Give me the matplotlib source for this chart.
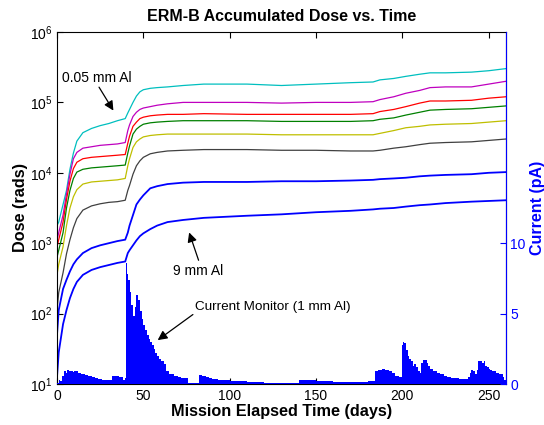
import numpy as np
import matplotlib
matplotlib.use('Agg')
from matplotlib import pyplot as plt

plt.rcParams['font.family'] = ['Liberation Sans', 'DejaVu Sans']

# Mission elapsed time (days) where the dose curves were read
days = [0, 1, 3.5, 5.5, 7.5, 9.5, 11.5, 15, 20, 25, 30, 35, 39.5, 41, 42, 44, 46, 48,
        50, 54, 58, 64, 73, 85, 110, 130, 150, 170, 183, 187, 195, 202, 210, 216,
        225, 240, 250, 260]

# Accumulated dose (rads), log10 values, thinnest shield first
log_dose_cyan = [3.25, 3.30, 3.55, 3.75, 4.05, 4.28, 4.45, 4.57, 4.63, 4.67, 4.70, 4.74,
                 4.77, 4.85, 4.90, 5.00, 5.09, 5.15, 5.18, 5.20, 5.21, 5.22, 5.24, 5.26,
                 5.26, 5.24, 5.26, 5.28, 5.29, 5.32, 5.34, 5.37, 5.40, 5.42, 5.42, 5.43,
                 5.45, 5.48]
log_dose_magenta = [3.05, 3.15, 3.40, 3.70, 3.98, 4.20, 4.29, 4.35, 4.37, 4.39, 4.40, 4.41,
                    4.43, 4.60, 4.68, 4.80, 4.86, 4.90, 4.92, 4.94, 4.96, 4.98, 5.00, 5.00,
                    5.00, 4.99, 5.00, 5.00, 5.01, 5.04, 5.08, 5.13, 5.17, 5.21, 5.22, 5.22,
                    5.26, 5.30]
log_dose_red = [2.95, 3.05, 3.30, 3.62, 3.88, 4.06, 4.15, 4.20, 4.22, 4.23, 4.24, 4.25,
                4.26, 4.42, 4.52, 4.66, 4.72, 4.77, 4.79, 4.81, 4.82, 4.83, 4.83, 4.84,
                4.83, 4.83, 4.83, 4.83, 4.84, 4.87, 4.90, 4.94, 4.99, 5.02, 5.02, 5.03,
                5.06, 5.08]
log_dose_green = [2.80, 2.90, 3.15, 3.50, 3.75, 3.92, 4.01, 4.05, 4.07, 4.08, 4.09, 4.10,
                  4.11, 4.28, 4.38, 4.55, 4.62, 4.66, 4.69, 4.71, 4.72, 4.73, 4.74, 4.74,
                  4.74, 4.73, 4.73, 4.73, 4.74, 4.76, 4.78, 4.82, 4.86, 4.89, 4.90, 4.91,
                  4.93, 4.95]
log_dose_olive = [2.55, 2.70, 2.95, 3.25, 3.50, 3.66, 3.76, 3.84, 3.87, 3.88, 3.89, 3.90,
                  3.92, 4.10, 4.20, 4.36, 4.44, 4.48, 4.51, 4.53, 4.54, 4.55, 4.55, 4.55,
                  4.55, 4.54, 4.54, 4.54, 4.54, 4.56, 4.60, 4.64, 4.66, 4.68, 4.69, 4.70,
                  4.72, 4.74]
log_dose_gray = [2.05, 2.30, 2.58, 2.85, 3.05, 3.22, 3.35, 3.47, 3.53, 3.56, 3.58, 3.59,
                 3.61, 3.75, 3.82, 3.98, 4.10, 4.17, 4.22, 4.27, 4.29, 4.31, 4.32, 4.33,
                 4.33, 4.32, 4.32, 4.31, 4.31, 4.32, 4.35, 4.37, 4.40, 4.42, 4.43, 4.44,
                 4.46, 4.48]
log_dose_blue1 = [1.70, 2.05, 2.35, 2.48, 2.60, 2.70, 2.77, 2.86, 2.93, 2.97, 3.00, 3.03,
                  3.05, 3.15, 3.25, 3.40, 3.55, 3.62, 3.68, 3.78, 3.81, 3.84, 3.86, 3.87,
                  3.87, 3.88, 3.88, 3.89, 3.90, 3.91, 3.92, 3.93, 3.95, 3.96, 3.97, 3.98,
                  4.00, 4.01]
log_dose_blue2 = [1.10, 1.45, 1.85, 2.05, 2.22, 2.35, 2.45, 2.55, 2.62, 2.66, 2.69, 2.72,
                  2.74, 2.86, 2.90, 2.97, 3.04, 3.10, 3.14, 3.20, 3.25, 3.30, 3.33, 3.36,
                  3.39, 3.41, 3.44, 3.46, 3.48, 3.49, 3.50, 3.52, 3.54, 3.55, 3.57, 3.59,
                  3.60, 3.61]

dose_curves = [log_dose_cyan, log_dose_magenta, log_dose_red, log_dose_green,
               log_dose_olive, log_dose_gray, log_dose_blue1, log_dose_blue2]
curve_colors = ['#00bfbf', '#bf00bf', '#ff0000', '#008000',
                '#bfbf00', '#404040', '#0000ff', '#0000ff']

# Current monitor (1 mm Al), pA
cur_days = [0, 1, 2, 3, 4, 5, 6, 7, 8, 9, 10, 12, 14, 16, 18, 20, 22, 24, 26, 28, 30,
            32, 34, 36, 38, 39.5, 40, 40.5, 41, 42, 43, 44, 45, 46, 47, 48, 49, 50, 51,
            52, 53, 54, 55, 56, 57, 58, 59, 60, 62, 63, 65, 68, 70, 72, 74, 76, 80, 82,
            84, 86, 88, 90, 93, 96, 100, 110, 120, 130, 140, 143, 146, 150, 160, 170,
            180, 183, 184, 186, 188, 190, 192, 194, 196, 198, 199.5, 200, 200.5, 201,
            202, 203, 204, 205, 206, 207, 208, 209, 210, 211, 212, 213, 214, 215, 216,
            218, 220, 222, 224, 226, 228, 230, 233, 236, 238, 239, 240, 241, 242, 243,
            244, 245, 246, 247, 248, 249, 250, 251, 252, 254, 256, 258, 259, 260]
current = [0.1, 0.3, 0.2, 0.6, 0.9, 0.8, 1.0, 0.9, 0.95, 0.85, 0.9, 0.8, 0.7, 0.65, 0.55,
           0.5, 0.4, 0.35, 0.3, 0.3, 0.3, 0.6, 0.55, 0.5, 0.3, 0.4, 8.6, 7.8, 7.4, 6.5,
           5.6, 4.8, 5.5, 6.3, 6.0, 5.2, 4.6, 4.2, 3.8, 3.5, 3.2, 3.0, 2.8, 2.5, 2.2, 2.0,
           1.8, 1.6, 1.4, 0.9, 0.7, 0.6, 0.5, 0.45, 0.4, 0.1, 0.05, 0.65, 0.6, 0.5, 0.45,
           0.35, 0.3, 0.25, 0.2, 0.15, 0.1, 0.1, 0.25, 0.3, 0.25, 0.2, 0.15, 0.15, 0.2,
           0.2, 0.9, 1.0, 1.1, 1.0, 0.9, 0.8, 0.6, 0.5, 0.4, 2.8, 3.0, 2.9, 2.4, 2.0,
           1.8, 1.6, 1.3, 1.4, 1.2, 0.9, 0.8, 1.5, 1.7, 1.7, 1.5, 1.3, 1.1, 0.9, 0.8,
           0.7, 0.6, 0.5, 0.45, 0.4, 0.35, 0.35, 0.5, 0.8, 1.0, 0.9, 0.7, 1.0, 1.6, 1.6,
           1.5, 1.6, 1.3, 1.2, 1.1, 1.0, 0.9, 0.8, 0.7, 0.5, 0.3, 0.2]

fig = plt.figure(figsize=(5.44, 4.25), dpi=100)
ax = fig.add_axes([57 / 544, 1 - 384 / 425, 449 / 544, 352 / 425])

for vals, col in zip(dose_curves, curve_colors):
    lw = 1.3 if col == '#0000ff' else 0.9
    ax.semilogy(days, 10 ** np.array(vals), color=col, lw=lw)

ax.set_xlim(0, 260)
ax.set_ylim(1e1, 1e6)
ax.set_xticks([0, 50, 100, 150, 200, 250])
ax.minorticks_off()
ax.tick_params(direction='in', length=4, top=True, right=True, labelsize=10)
ax.set_xlabel('Mission Elapsed Time (days)', fontsize=11.7, fontweight='bold', labelpad=1)
ax.set_ylabel('Dose (rads)', fontsize=11.7, fontweight='bold', labelpad=1)
ax.set_title('ERM-B Accumulated Dose vs. Time', fontsize=11.5, fontweight='bold', pad=8)

ax2 = ax.twinx()
ax2.fill_between(cur_days, current, step='post', color='#0000ff', lw=0)
ax2.set_ylim(0, 25)
ax2.set_yticks([0, 5, 10])
ax2.tick_params(axis='y', direction='in', length=4, pad=3, colors='#0000ff', labelsize=10)
for s in ['top', 'left', 'bottom']:
    ax2.spines[s].set_visible(False)
ax2.spines['right'].set_color('#0000ff')
ax2.set_ylabel('Current (pA)', fontsize=11.5, fontweight='bold', color='#0000ff')
ax2.yaxis.set_label_coords(1.053, 0.5)

# annotations (in dose-axis coordinates)
arrow = dict(arrowstyle='-|>', color='black', lw=0.9, mutation_scale=14)
ax.text(3, 10 ** 5.35, '0.05 mm Al', fontsize=10, va='center')
ax.annotate('', xy=(33.5, 10 ** 4.85), xytext=(23.5, 10 ** 5.25), arrowprops=arrow)
ax.text(81.5, 10 ** 2.6, '9 mm Al', fontsize=10, ha='center', va='center')
ax.annotate('', xy=(76, 10 ** 3.19), xytext=(82.5, 10 ** 2.72), arrowprops=arrow)
ax.text(80, 10 ** 2.1, 'Current Monitor (1 mm Al)', fontsize=9.7, ha='left', va='center')
ax.annotate('', xy=(57, 10 ** 1.6), xytext=(80, 10 ** 2.01), arrowprops=arrow)

fig.savefig('out.png', dpi=100)
